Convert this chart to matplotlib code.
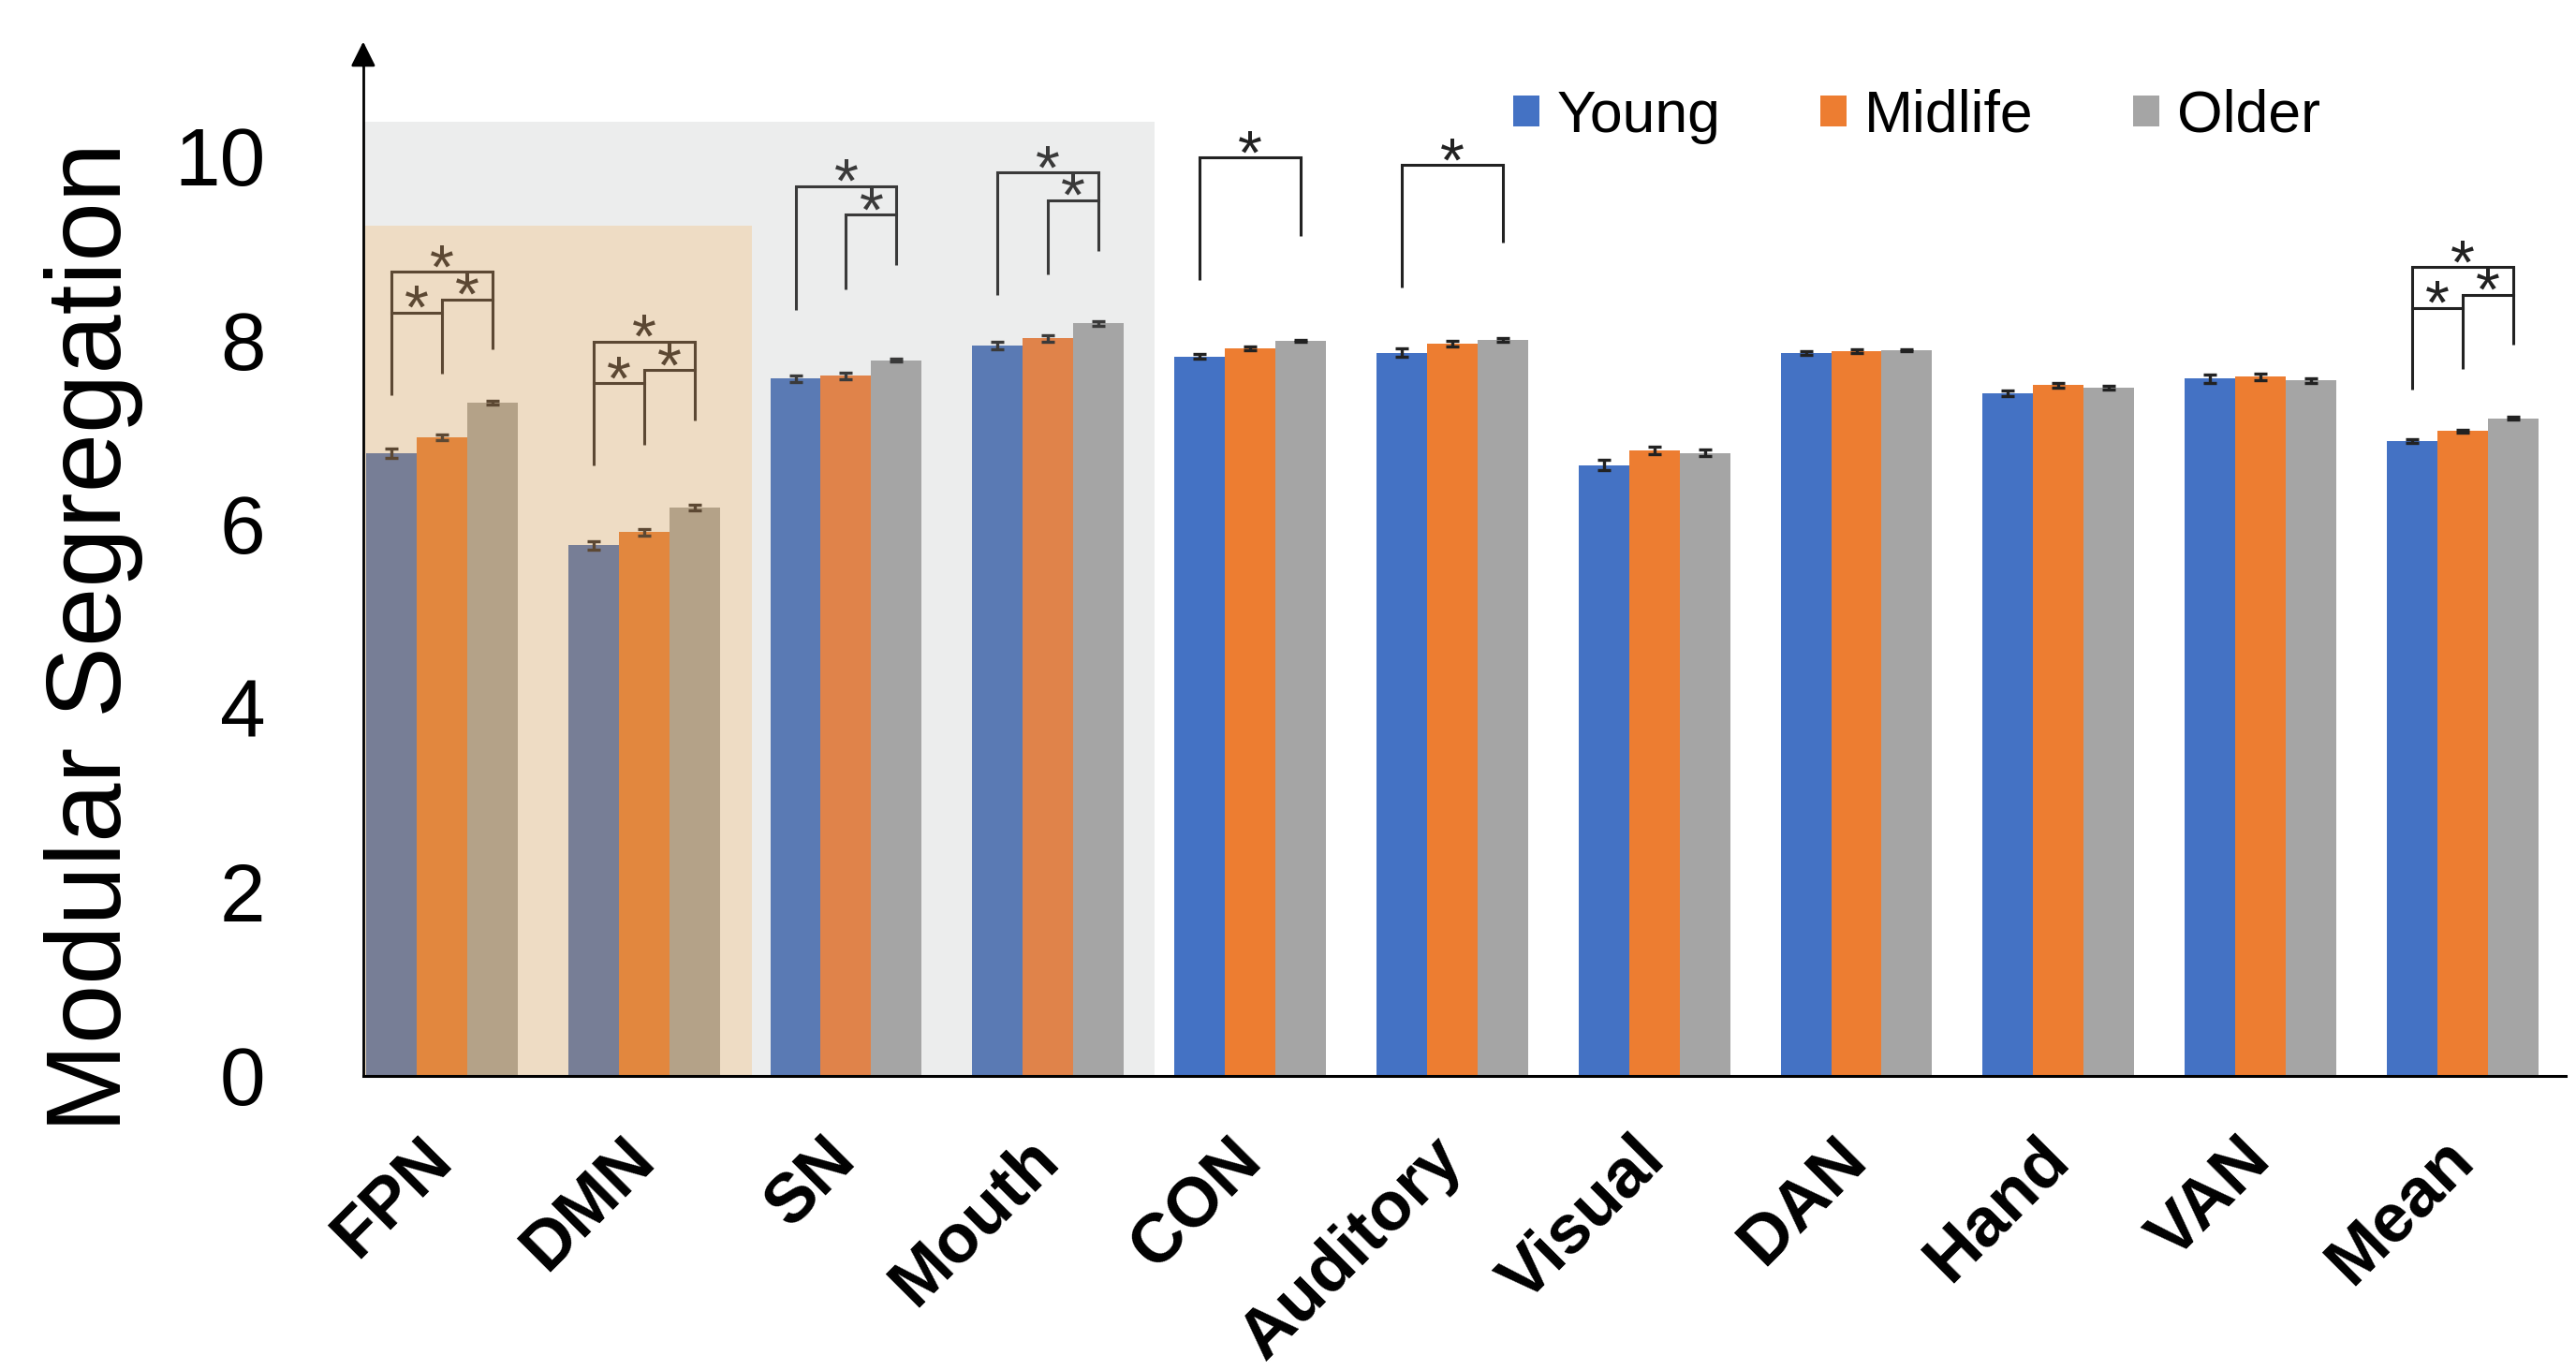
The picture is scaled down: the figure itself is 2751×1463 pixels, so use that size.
import numpy as np
import matplotlib
matplotlib.use('Agg')
import matplotlib.pyplot as plt
from matplotlib.patches import Rectangle, Patch

plt.rcParams['font.family'] = ['Liberation Sans', 'DejaVu Sans']

# data
categories = ['FPN', 'DMN', 'SN', 'Mouth', 'CON', 'Auditory', 'Visual', 'DAN', 'Hand', 'VAN', 'Mean']
groups = ['Young', 'Midlife', 'Older']
young = [6.77, 5.77, 7.58, 7.94, 7.82, 7.86, 6.64, 7.86, 7.42, 7.58, 6.90]
midlife = [6.94, 5.91, 7.61, 8.02, 7.91, 7.96, 6.80, 7.88, 7.51, 7.60, 7.01]
older = [7.32, 6.18, 7.78, 8.18, 7.99, 8.00, 6.77, 7.89, 7.48, 7.56, 7.15]
young_err = [0.048, 0.046, 0.035, 0.038, 0.024, 0.048, 0.056, 0.02, 0.034, 0.043, 0.02]
midlife_err = [0.03, 0.038, 0.035, 0.036, 0.024, 0.035, 0.04, 0.02, 0.027, 0.035, 0.015]
older_err = [0.02, 0.03, 0.015, 0.024, 0.012, 0.024, 0.036, 0.01, 0.02, 0.027, 0.015]

# significance brackets: (category index, bar a, bar b, height)
brackets = [(0, 0, 2, 8.74), (0, 0, 1, 8.30), (0, 1, 2, 8.44),
            (1, 0, 2, 7.98), (1, 0, 1, 7.53), (1, 1, 2, 7.67),
            (2, 0, 2, 9.67), (2, 1, 2, 9.36),
            (3, 0, 2, 9.82), (3, 1, 2, 9.52),
            (4, 0, 2, 9.98),
            (5, 0, 2, 9.90),
            (10, 0, 2, 8.79), (10, 0, 1, 8.35), (10, 1, 2, 8.49)]
# lower ends of the bracket legs per category (None = no leg)
leg_bottoms = {0: [7.40, 7.63, 7.90], 1: [6.64, 6.86, 7.12],
               2: [8.33, 8.55, 8.81], 3: [8.49, 8.71, 8.97],
               4: [8.65, None, 9.13], 5: [8.57, None, 9.06],
               10: [7.46, 7.68, 7.95]}

# styling
region = ['tan', 'tan', 'grey', 'grey'] + ['white'] * 7
bar_colors = {'white': ['#4472C4', '#ED7D31', '#A5A5A5'],
              'grey': ['#5A7AB4', '#E0834A', '#A5A5A5'],
              'tan': ['#777E96', '#E2873E', '#B4A288']}
line_colors = {'white': '#222222', 'grey': '#3A3A3A', 'tan': '#5C4833'}

fig = plt.figure(figsize=(27.51, 14.63), dpi=100)
ax = fig.add_axes([0.1410, 0.21463, 0.855, 0.7387])
x0, x1 = -0.389, 10.51
ax.set_xlim(x0, x1)
ax.set_ylim(0, 11.0)

# shaded backgrounds
ax.add_patch(Rectangle((x0, 0), 3.527 - x0, 10.37, color='#ECEDED', zorder=0, lw=0))
ax.add_patch(Rectangle((x0, 0), 1.534 - x0, 9.24, color='#EEDCC4', zorder=0.5, lw=0))

x = np.arange(len(categories))
width = 0.25
offsets = [-width, 0, width]
series = [young, midlife, older]
errs = [young_err, midlife_err, older_err]

for k in range(3):
    cols = [bar_colors[r][k] for r in region]
    ax.bar(x + offsets[k], series[k], width, color=cols, zorder=2)
    for i in range(len(categories)):
        ax.errorbar(x[i] + offsets[k], series[k][i], yerr=errs[k][i], fmt='none',
                    ecolor=line_colors[region[i]], elinewidth=2.4, capsize=5,
                    capthick=2.4, zorder=3)

# brackets
for ci, legs in leg_bottoms.items():
    c = line_colors[region[ci]]
    for b in range(3):
        if legs[b] is None:
            continue
        top = max(h for (g, a, bb, h) in brackets if g == ci and b in (a, bb))
        ax.plot([x[ci] + offsets[b]] * 2, [legs[b], top], color=c, lw=2.2,
                solid_capstyle='butt', zorder=4)
for (ci, a, b, h) in brackets:
    c = line_colors[region[ci]]
    xa, xb = x[ci] + offsets[a], x[ci] + offsets[b]
    ax.plot([xa, xb], [h, h], color=c, lw=2.2, solid_capstyle='projecting', zorder=4)
    ax.text((xa + xb) / 2, h, '*', ha='center', va='center', fontsize=48,
            color=c, zorder=5)

# axes styling
for s in ['top', 'right']:
    ax.spines[s].set_visible(False)
ax.spines['left'].set_linewidth(2)
ax.spines['bottom'].set_linewidth(2.2)
ax.annotate('', xy=(x0, 11.27), xytext=(x0, 10.95),
            arrowprops=dict(arrowstyle='-|>', color='black', lw=2, mutation_scale=40),
            annotation_clip=False)

ax.set_yticks([0, 2, 4, 6, 8, 10])
ax.tick_params(axis='y', length=0, pad=75, labelsize=63)
ax.set_xticks(x)
ax.set_xticklabels(categories, rotation=45, ha='right', va='center',
                   rotation_mode='anchor', fontweight='bold', fontsize=53)
ax.tick_params(axis='x', length=0, pad=56)

handles = [Patch(facecolor=c) for c in bar_colors['white']]
fig.legend(handles, groups, loc='center left', bbox_to_anchor=(0.5874, 0.915),
           ncol=3, frameon=False, fontsize=45, handlelength=0.45, handleheight=0.45,
           handletextpad=0.3, columnspacing=1.7, borderpad=0, borderaxespad=0)

fig.text(0.0364, 0.535, 'Modular Segregation', rotation=90, fontsize=82,
         ha='center', va='center')

fig.savefig('out.png', dpi=100)
